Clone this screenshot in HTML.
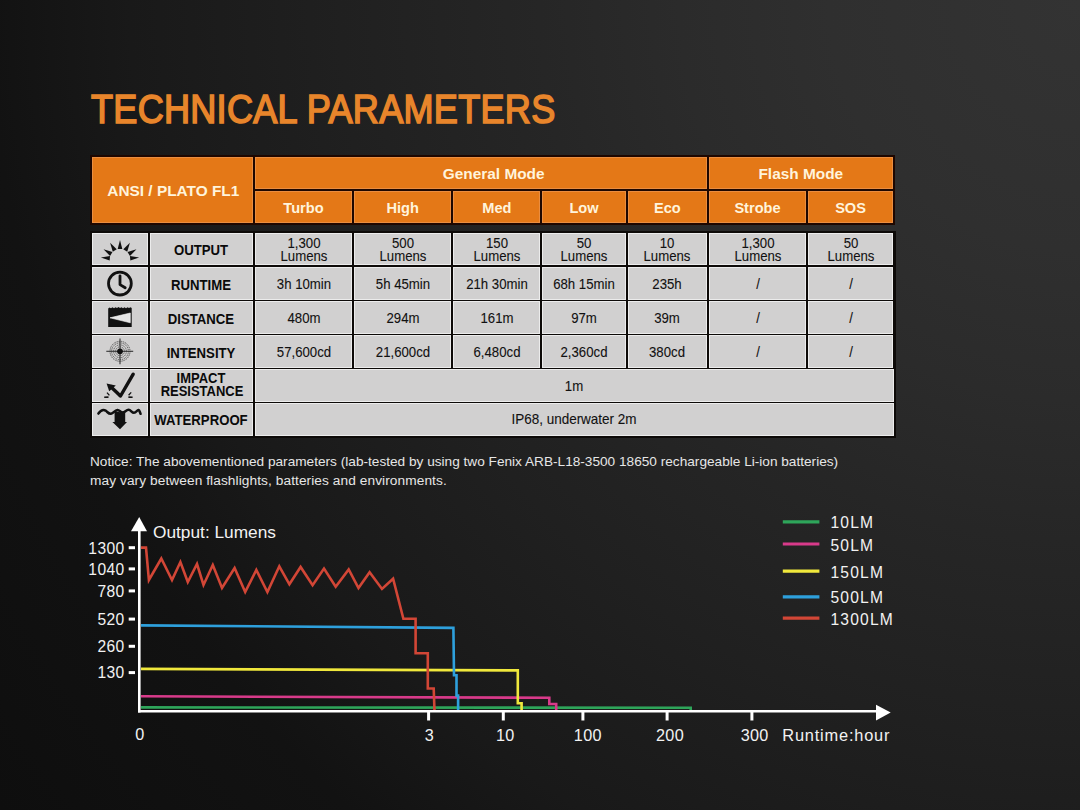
<!DOCTYPE html>
<html><head><meta charset="utf-8"><style>
html,body{margin:0;padding:0;}
body{width:1080px;height:810px;overflow:hidden;position:relative;font-family:"Liberation Sans", sans-serif;
background:radial-gradient(circle at 1080px 0px, #333333 0px, #2f2f2f 250px, #2b2b2b 400px, #262626 540px, #202020 740px, #191919 950px, #121212 1090px, #0e0e0e 1350px);}
.t{position:absolute;line-height:1;white-space:nowrap;}
.r{position:absolute;}
</style></head><body>
<div class="t" style="left:90.5px;top:89.14px;font-size:40px;font-weight:400;color:#e8852b;-webkit-text-stroke:1.6px #e8852b;transform:scaleX(0.902);transform-origin:0 0;white-space:nowrap;letter-spacing:0.3px">TECHNICAL PARAMETERS</div>
<div class="r" style="left:90px;top:155px;width:805.30px;height:70.00px;background:#1e0700;"></div>
<div class="r" style="left:92px;top:157px;width:161.00px;height:66.00px;background:#e47817;box-shadow:inset 0 0 0 1px #ea8d40"></div>
<div class="r" style="left:255px;top:157px;width:452.20px;height:31.70px;background:#e47817;box-shadow:inset 0 0 0 1px #ea8d40"></div>
<div class="r" style="left:709.2px;top:157px;width:184.10px;height:31.70px;background:#e47817;box-shadow:inset 0 0 0 1px #ea8d40"></div>
<div class="r" style="left:255px;top:190.7px;width:97.00px;height:32.30px;background:#e47817;box-shadow:inset 0 0 0 1px #ea8d40"></div>
<div class="r" style="left:354px;top:190.7px;width:97.20px;height:32.30px;background:#e47817;box-shadow:inset 0 0 0 1px #ea8d40"></div>
<div class="r" style="left:453.2px;top:190.7px;width:87.30px;height:32.30px;background:#e47817;box-shadow:inset 0 0 0 1px #ea8d40"></div>
<div class="r" style="left:542.3px;top:190.7px;width:83.40px;height:32.30px;background:#e47817;box-shadow:inset 0 0 0 1px #ea8d40"></div>
<div class="r" style="left:627.5px;top:190.7px;width:79.70px;height:32.30px;background:#e47817;box-shadow:inset 0 0 0 1px #ea8d40"></div>
<div class="r" style="left:709.2px;top:190.7px;width:96.60px;height:32.30px;background:#e47817;box-shadow:inset 0 0 0 1px #ea8d40"></div>
<div class="r" style="left:807.8px;top:190.7px;width:85.50px;height:32.30px;background:#e47817;box-shadow:inset 0 0 0 1px #ea8d40"></div>
<div class="t" style="left:-126.70px;width:600px;text-align:center;top:182.66px;font-size:15.4px;font-weight:700;color:#fff4dc;">ANSI / PLATO FL1</div>
<div class="t" style="left:193.70px;width:600px;text-align:center;top:165.86px;font-size:15.4px;font-weight:700;color:#fff4dc;">General Mode</div>
<div class="t" style="left:500.80px;width:600px;text-align:center;top:165.86px;font-size:15.4px;font-weight:700;color:#fff4dc;">Flash Mode</div>
<div class="t" style="left:3.50px;width:600px;text-align:center;top:200.94px;font-size:14.6px;font-weight:700;color:#fff4dc;">Turbo</div>
<div class="t" style="left:102.60px;width:600px;text-align:center;top:200.94px;font-size:14.6px;font-weight:700;color:#fff4dc;">High</div>
<div class="t" style="left:196.85px;width:600px;text-align:center;top:200.94px;font-size:14.6px;font-weight:700;color:#fff4dc;">Med</div>
<div class="t" style="left:284.00px;width:600px;text-align:center;top:200.94px;font-size:14.6px;font-weight:700;color:#fff4dc;">Low</div>
<div class="t" style="left:367.35px;width:600px;text-align:center;top:200.94px;font-size:14.6px;font-weight:700;color:#fff4dc;">Eco</div>
<div class="t" style="left:457.50px;width:600px;text-align:center;top:200.94px;font-size:14.6px;font-weight:700;color:#fff4dc;">Strobe</div>
<div class="t" style="left:550.55px;width:600px;text-align:center;top:200.94px;font-size:14.6px;font-weight:700;color:#fff4dc;">SOS</div>
<div class="r" style="left:90px;top:231px;width:805.50px;height:206.60px;background:#0d0a08;"></div>
<div class="r" style="left:92px;top:233px;width:55.50px;height:32.10px;background:#d1d0d0;box-shadow:inset 0 0 0 1px #ececec"></div>
<div class="r" style="left:149.5px;top:233px;width:103.50px;height:32.10px;background:#d1d0d0;box-shadow:inset 0 0 0 1px #ececec"></div>
<div class="r" style="left:255px;top:233px;width:97.00px;height:32.10px;background:#d1d0d0;box-shadow:inset 0 0 0 1px #ececec"></div>
<div class="r" style="left:354px;top:233px;width:97.20px;height:32.10px;background:#d1d0d0;box-shadow:inset 0 0 0 1px #ececec"></div>
<div class="r" style="left:453.2px;top:233px;width:87.30px;height:32.10px;background:#d1d0d0;box-shadow:inset 0 0 0 1px #ececec"></div>
<div class="r" style="left:542.3px;top:233px;width:83.40px;height:32.10px;background:#d1d0d0;box-shadow:inset 0 0 0 1px #ececec"></div>
<div class="r" style="left:627.5px;top:233px;width:79.70px;height:32.10px;background:#d1d0d0;box-shadow:inset 0 0 0 1px #ececec"></div>
<div class="r" style="left:709.2px;top:233px;width:96.60px;height:32.10px;background:#d1d0d0;box-shadow:inset 0 0 0 1px #ececec"></div>
<div class="r" style="left:807.8px;top:233px;width:85.70px;height:32.10px;background:#d1d0d0;box-shadow:inset 0 0 0 1px #ececec"></div>
<div class="r" style="left:92px;top:266.9px;width:55.50px;height:32.70px;background:#d1d0d0;box-shadow:inset 0 0 0 1px #ececec"></div>
<div class="r" style="left:149.5px;top:266.9px;width:103.50px;height:32.70px;background:#d1d0d0;box-shadow:inset 0 0 0 1px #ececec"></div>
<div class="r" style="left:255px;top:266.9px;width:97.00px;height:32.70px;background:#d1d0d0;box-shadow:inset 0 0 0 1px #ececec"></div>
<div class="r" style="left:354px;top:266.9px;width:97.20px;height:32.70px;background:#d1d0d0;box-shadow:inset 0 0 0 1px #ececec"></div>
<div class="r" style="left:453.2px;top:266.9px;width:87.30px;height:32.70px;background:#d1d0d0;box-shadow:inset 0 0 0 1px #ececec"></div>
<div class="r" style="left:542.3px;top:266.9px;width:83.40px;height:32.70px;background:#d1d0d0;box-shadow:inset 0 0 0 1px #ececec"></div>
<div class="r" style="left:627.5px;top:266.9px;width:79.70px;height:32.70px;background:#d1d0d0;box-shadow:inset 0 0 0 1px #ececec"></div>
<div class="r" style="left:709.2px;top:266.9px;width:96.60px;height:32.70px;background:#d1d0d0;box-shadow:inset 0 0 0 1px #ececec"></div>
<div class="r" style="left:807.8px;top:266.9px;width:85.70px;height:32.70px;background:#d1d0d0;box-shadow:inset 0 0 0 1px #ececec"></div>
<div class="r" style="left:92px;top:301.4px;width:55.50px;height:32.20px;background:#d1d0d0;box-shadow:inset 0 0 0 1px #ececec"></div>
<div class="r" style="left:149.5px;top:301.4px;width:103.50px;height:32.20px;background:#d1d0d0;box-shadow:inset 0 0 0 1px #ececec"></div>
<div class="r" style="left:255px;top:301.4px;width:97.00px;height:32.20px;background:#d1d0d0;box-shadow:inset 0 0 0 1px #ececec"></div>
<div class="r" style="left:354px;top:301.4px;width:97.20px;height:32.20px;background:#d1d0d0;box-shadow:inset 0 0 0 1px #ececec"></div>
<div class="r" style="left:453.2px;top:301.4px;width:87.30px;height:32.20px;background:#d1d0d0;box-shadow:inset 0 0 0 1px #ececec"></div>
<div class="r" style="left:542.3px;top:301.4px;width:83.40px;height:32.20px;background:#d1d0d0;box-shadow:inset 0 0 0 1px #ececec"></div>
<div class="r" style="left:627.5px;top:301.4px;width:79.70px;height:32.20px;background:#d1d0d0;box-shadow:inset 0 0 0 1px #ececec"></div>
<div class="r" style="left:709.2px;top:301.4px;width:96.60px;height:32.20px;background:#d1d0d0;box-shadow:inset 0 0 0 1px #ececec"></div>
<div class="r" style="left:807.8px;top:301.4px;width:85.70px;height:32.20px;background:#d1d0d0;box-shadow:inset 0 0 0 1px #ececec"></div>
<div class="r" style="left:92px;top:335.4px;width:55.50px;height:32.20px;background:#d1d0d0;box-shadow:inset 0 0 0 1px #ececec"></div>
<div class="r" style="left:149.5px;top:335.4px;width:103.50px;height:32.20px;background:#d1d0d0;box-shadow:inset 0 0 0 1px #ececec"></div>
<div class="r" style="left:255px;top:335.4px;width:97.00px;height:32.20px;background:#d1d0d0;box-shadow:inset 0 0 0 1px #ececec"></div>
<div class="r" style="left:354px;top:335.4px;width:97.20px;height:32.20px;background:#d1d0d0;box-shadow:inset 0 0 0 1px #ececec"></div>
<div class="r" style="left:453.2px;top:335.4px;width:87.30px;height:32.20px;background:#d1d0d0;box-shadow:inset 0 0 0 1px #ececec"></div>
<div class="r" style="left:542.3px;top:335.4px;width:83.40px;height:32.20px;background:#d1d0d0;box-shadow:inset 0 0 0 1px #ececec"></div>
<div class="r" style="left:627.5px;top:335.4px;width:79.70px;height:32.20px;background:#d1d0d0;box-shadow:inset 0 0 0 1px #ececec"></div>
<div class="r" style="left:709.2px;top:335.4px;width:96.60px;height:32.20px;background:#d1d0d0;box-shadow:inset 0 0 0 1px #ececec"></div>
<div class="r" style="left:807.8px;top:335.4px;width:85.70px;height:32.20px;background:#d1d0d0;box-shadow:inset 0 0 0 1px #ececec"></div>
<div class="r" style="left:92px;top:369.4px;width:55.50px;height:32.20px;background:#d1d0d0;box-shadow:inset 0 0 0 1px #ececec"></div>
<div class="r" style="left:149.5px;top:369.4px;width:103.50px;height:32.20px;background:#d1d0d0;box-shadow:inset 0 0 0 1px #ececec"></div>
<div class="r" style="left:255px;top:369.4px;width:638.50px;height:32.20px;background:#d1d0d0;box-shadow:inset 0 0 0 1px #ececec"></div>
<div class="r" style="left:92px;top:403.4px;width:55.50px;height:32.20px;background:#d1d0d0;box-shadow:inset 0 0 0 1px #ececec"></div>
<div class="r" style="left:149.5px;top:403.4px;width:103.50px;height:32.20px;background:#d1d0d0;box-shadow:inset 0 0 0 1px #ececec"></div>
<div class="r" style="left:255px;top:403.4px;width:638.50px;height:32.20px;background:#d1d0d0;box-shadow:inset 0 0 0 1px #ececec"></div>
<div class="t" style="left:-98.75px;width:600px;text-align:center;top:243.45px;font-size:14px;font-weight:700;color:#0a0a0a;;transform:scaleX(0.94);transform-origin:50% 0">OUTPUT</div>
<div class="t" style="left:-98.75px;width:600px;text-align:center;top:277.85px;font-size:14px;font-weight:700;color:#0a0a0a;;transform:scaleX(0.94);transform-origin:50% 0">RUNTIME</div>
<div class="t" style="left:-98.75px;width:600px;text-align:center;top:311.50px;font-size:14px;font-weight:700;color:#0a0a0a;;transform:scaleX(0.94);transform-origin:50% 0">DISTANCE</div>
<div class="t" style="left:-98.75px;width:600px;text-align:center;top:345.65px;font-size:14px;font-weight:700;color:#0a0a0a;;transform:scaleX(0.94);transform-origin:50% 0">INTENSITY</div>
<div class="t" style="left:-98.75px;width:600px;text-align:center;top:413.35px;font-size:14px;font-weight:700;color:#0a0a0a;;transform:scaleX(0.94);transform-origin:50% 0">WATERPROOF</div>
<div class="t" style="left:-98.70px;width:600px;text-align:center;top:372.32px;font-size:13.8px;font-weight:700;color:#0a0a0a;;transform:scaleX(0.94);transform-origin:50% 0">IMPACT</div>
<div class="t" style="left:-98.50px;width:600px;text-align:center;top:384.52px;font-size:13.8px;font-weight:700;color:#0a0a0a;;transform:scaleX(0.94);transform-origin:50% 0">RESISTANCE</div>
<div class="t" style="left:3.50px;width:600px;text-align:center;top:236.08px;font-size:14.2px;font-weight:400;color:#111;-webkit-text-stroke:0.1px #111;transform:scaleX(0.93);transform-origin:50% 0">1,300</div>
<div class="t" style="left:3.50px;width:600px;text-align:center;top:249.08px;font-size:14.2px;font-weight:400;color:#111;-webkit-text-stroke:0.1px #111;transform:scaleX(0.93);transform-origin:50% 0">Lumens</div>
<div class="t" style="left:102.60px;width:600px;text-align:center;top:236.08px;font-size:14.2px;font-weight:400;color:#111;-webkit-text-stroke:0.1px #111;transform:scaleX(0.93);transform-origin:50% 0">500</div>
<div class="t" style="left:102.60px;width:600px;text-align:center;top:249.08px;font-size:14.2px;font-weight:400;color:#111;-webkit-text-stroke:0.1px #111;transform:scaleX(0.93);transform-origin:50% 0">Lumens</div>
<div class="t" style="left:196.85px;width:600px;text-align:center;top:236.08px;font-size:14.2px;font-weight:400;color:#111;-webkit-text-stroke:0.1px #111;transform:scaleX(0.93);transform-origin:50% 0">150</div>
<div class="t" style="left:196.85px;width:600px;text-align:center;top:249.08px;font-size:14.2px;font-weight:400;color:#111;-webkit-text-stroke:0.1px #111;transform:scaleX(0.93);transform-origin:50% 0">Lumens</div>
<div class="t" style="left:284.00px;width:600px;text-align:center;top:236.08px;font-size:14.2px;font-weight:400;color:#111;-webkit-text-stroke:0.1px #111;transform:scaleX(0.93);transform-origin:50% 0">50</div>
<div class="t" style="left:284.00px;width:600px;text-align:center;top:249.08px;font-size:14.2px;font-weight:400;color:#111;-webkit-text-stroke:0.1px #111;transform:scaleX(0.93);transform-origin:50% 0">Lumens</div>
<div class="t" style="left:367.35px;width:600px;text-align:center;top:236.08px;font-size:14.2px;font-weight:400;color:#111;-webkit-text-stroke:0.1px #111;transform:scaleX(0.93);transform-origin:50% 0">10</div>
<div class="t" style="left:367.35px;width:600px;text-align:center;top:249.08px;font-size:14.2px;font-weight:400;color:#111;-webkit-text-stroke:0.1px #111;transform:scaleX(0.93);transform-origin:50% 0">Lumens</div>
<div class="t" style="left:457.50px;width:600px;text-align:center;top:236.08px;font-size:14.2px;font-weight:400;color:#111;-webkit-text-stroke:0.1px #111;transform:scaleX(0.93);transform-origin:50% 0">1,300</div>
<div class="t" style="left:457.50px;width:600px;text-align:center;top:249.08px;font-size:14.2px;font-weight:400;color:#111;-webkit-text-stroke:0.1px #111;transform:scaleX(0.93);transform-origin:50% 0">Lumens</div>
<div class="t" style="left:550.65px;width:600px;text-align:center;top:236.08px;font-size:14.2px;font-weight:400;color:#111;-webkit-text-stroke:0.1px #111;transform:scaleX(0.93);transform-origin:50% 0">50</div>
<div class="t" style="left:550.65px;width:600px;text-align:center;top:249.08px;font-size:14.2px;font-weight:400;color:#111;-webkit-text-stroke:0.1px #111;transform:scaleX(0.93);transform-origin:50% 0">Lumens</div>
<div class="t" style="left:3.50px;width:600px;text-align:center;top:276.98px;font-size:14.2px;font-weight:400;color:#111;-webkit-text-stroke:0.1px #111;transform:scaleX(0.93);transform-origin:50% 0">3h 10min</div>
<div class="t" style="left:102.60px;width:600px;text-align:center;top:276.98px;font-size:14.2px;font-weight:400;color:#111;-webkit-text-stroke:0.1px #111;transform:scaleX(0.93);transform-origin:50% 0">5h 45min</div>
<div class="t" style="left:196.85px;width:600px;text-align:center;top:276.98px;font-size:14.2px;font-weight:400;color:#111;-webkit-text-stroke:0.1px #111;transform:scaleX(0.93);transform-origin:50% 0">21h 30min</div>
<div class="t" style="left:284.00px;width:600px;text-align:center;top:276.98px;font-size:14.2px;font-weight:400;color:#111;-webkit-text-stroke:0.1px #111;transform:scaleX(0.93);transform-origin:50% 0">68h 15min</div>
<div class="t" style="left:367.35px;width:600px;text-align:center;top:276.98px;font-size:14.2px;font-weight:400;color:#111;-webkit-text-stroke:0.1px #111;transform:scaleX(0.93);transform-origin:50% 0">235h</div>
<div class="t" style="left:457.50px;width:600px;text-align:center;top:276.98px;font-size:14.2px;font-weight:400;color:#111;-webkit-text-stroke:0.1px #111;transform:scaleX(0.93);transform-origin:50% 0">/</div>
<div class="t" style="left:550.65px;width:600px;text-align:center;top:276.98px;font-size:14.2px;font-weight:400;color:#111;-webkit-text-stroke:0.1px #111;transform:scaleX(0.93);transform-origin:50% 0">/</div>
<div class="t" style="left:3.50px;width:600px;text-align:center;top:310.63px;font-size:14.2px;font-weight:400;color:#111;-webkit-text-stroke:0.1px #111;transform:scaleX(0.93);transform-origin:50% 0">480m</div>
<div class="t" style="left:102.60px;width:600px;text-align:center;top:310.63px;font-size:14.2px;font-weight:400;color:#111;-webkit-text-stroke:0.1px #111;transform:scaleX(0.93);transform-origin:50% 0">294m</div>
<div class="t" style="left:196.85px;width:600px;text-align:center;top:310.63px;font-size:14.2px;font-weight:400;color:#111;-webkit-text-stroke:0.1px #111;transform:scaleX(0.93);transform-origin:50% 0">161m</div>
<div class="t" style="left:284.00px;width:600px;text-align:center;top:310.63px;font-size:14.2px;font-weight:400;color:#111;-webkit-text-stroke:0.1px #111;transform:scaleX(0.93);transform-origin:50% 0">97m</div>
<div class="t" style="left:367.35px;width:600px;text-align:center;top:310.63px;font-size:14.2px;font-weight:400;color:#111;-webkit-text-stroke:0.1px #111;transform:scaleX(0.93);transform-origin:50% 0">39m</div>
<div class="t" style="left:457.50px;width:600px;text-align:center;top:310.63px;font-size:14.2px;font-weight:400;color:#111;-webkit-text-stroke:0.1px #111;transform:scaleX(0.93);transform-origin:50% 0">/</div>
<div class="t" style="left:550.65px;width:600px;text-align:center;top:310.63px;font-size:14.2px;font-weight:400;color:#111;-webkit-text-stroke:0.1px #111;transform:scaleX(0.93);transform-origin:50% 0">/</div>
<div class="t" style="left:3.50px;width:600px;text-align:center;top:344.78px;font-size:14.2px;font-weight:400;color:#111;-webkit-text-stroke:0.1px #111;transform:scaleX(0.93);transform-origin:50% 0">57,600cd</div>
<div class="t" style="left:102.60px;width:600px;text-align:center;top:344.78px;font-size:14.2px;font-weight:400;color:#111;-webkit-text-stroke:0.1px #111;transform:scaleX(0.93);transform-origin:50% 0">21,600cd</div>
<div class="t" style="left:196.85px;width:600px;text-align:center;top:344.78px;font-size:14.2px;font-weight:400;color:#111;-webkit-text-stroke:0.1px #111;transform:scaleX(0.93);transform-origin:50% 0">6,480cd</div>
<div class="t" style="left:284.00px;width:600px;text-align:center;top:344.78px;font-size:14.2px;font-weight:400;color:#111;-webkit-text-stroke:0.1px #111;transform:scaleX(0.93);transform-origin:50% 0">2,360cd</div>
<div class="t" style="left:367.35px;width:600px;text-align:center;top:344.78px;font-size:14.2px;font-weight:400;color:#111;-webkit-text-stroke:0.1px #111;transform:scaleX(0.93);transform-origin:50% 0">380cd</div>
<div class="t" style="left:457.50px;width:600px;text-align:center;top:344.78px;font-size:14.2px;font-weight:400;color:#111;-webkit-text-stroke:0.1px #111;transform:scaleX(0.93);transform-origin:50% 0">/</div>
<div class="t" style="left:550.65px;width:600px;text-align:center;top:344.78px;font-size:14.2px;font-weight:400;color:#111;-webkit-text-stroke:0.1px #111;transform:scaleX(0.93);transform-origin:50% 0">/</div>
<div class="t" style="left:274.00px;width:600px;text-align:center;top:378.88px;font-size:14.2px;font-weight:400;color:#111;-webkit-text-stroke:0.1px #111;transform:scaleX(0.93);transform-origin:50% 0">1m</div>
<div class="t" style="left:274.30px;width:600px;text-align:center;top:411.78px;font-size:14.2px;font-weight:400;color:#111;-webkit-text-stroke:0.1px #111;transform:scaleX(0.95);transform-origin:50% 0">IP68, underwater 2m</div>
<div class="t" style="left:90.00px;top:455.05px;font-size:13.65px;font-weight:400;color:#e6e6e6;white-space:nowrap">Notice: The abovementioned parameters (lab-tested by using two Fenix ARB-L18-3500 18650 rechargeable Li-ion batteries)</div>
<div class="t" style="left:90.00px;top:473.80px;font-size:13.7px;font-weight:400;color:#e6e6e6;white-space:nowrap;letter-spacing:0.08px">may vary between flashlights, batteries and environments.</div>
<div class="t" style="left:-475.40px;width:600px;text-align:right;top:540.59px;font-size:15.6px;font-weight:400;color:#f2f2f2;letter-spacing:0.4px">1300</div>
<div class="t" style="left:-475.40px;width:600px;text-align:right;top:561.79px;font-size:15.6px;font-weight:400;color:#f2f2f2;letter-spacing:0.4px">1040</div>
<div class="t" style="left:-475.40px;width:600px;text-align:right;top:583.79px;font-size:15.6px;font-weight:400;color:#f2f2f2;letter-spacing:0.4px">780</div>
<div class="t" style="left:-475.40px;width:600px;text-align:right;top:611.99px;font-size:15.6px;font-weight:400;color:#f2f2f2;letter-spacing:0.4px">520</div>
<div class="t" style="left:-475.40px;width:600px;text-align:right;top:639.19px;font-size:15.6px;font-weight:400;color:#f2f2f2;letter-spacing:0.4px">260</div>
<div class="t" style="left:-475.40px;width:600px;text-align:right;top:665.49px;font-size:15.6px;font-weight:400;color:#f2f2f2;letter-spacing:0.4px">130</div>
<div class="t" style="left:153.00px;top:524.36px;font-size:17.3px;font-weight:400;color:#f2f2f2;white-space:nowrap">Output: Lumens</div>
<div class="t" style="left:-160.00px;width:600px;text-align:center;top:725.89px;font-size:16.2px;font-weight:400;color:#f2f2f2;letter-spacing:0.3px">0</div>
<div class="t" style="left:129.30px;width:600px;text-align:center;top:727.29px;font-size:16.2px;font-weight:400;color:#f2f2f2;letter-spacing:0.3px">3</div>
<div class="t" style="left:205.30px;width:600px;text-align:center;top:727.39px;font-size:16.2px;font-weight:400;color:#f2f2f2;letter-spacing:0.3px">10</div>
<div class="t" style="left:287.80px;width:600px;text-align:center;top:727.29px;font-size:16.2px;font-weight:400;color:#f2f2f2;letter-spacing:0.3px">100</div>
<div class="t" style="left:370.00px;width:600px;text-align:center;top:727.29px;font-size:16.2px;font-weight:400;color:#f2f2f2;letter-spacing:0.3px">200</div>
<div class="t" style="left:454.60px;width:600px;text-align:center;top:727.19px;font-size:16.2px;font-weight:400;color:#f2f2f2;letter-spacing:0.3px">300</div>
<div class="t" style="left:782.30px;top:727.02px;font-size:16.4px;font-weight:400;color:#f2f2f2;white-space:nowrap;letter-spacing:0.8px">Runtime:hour</div>
<div class="t" style="left:830.50px;top:515.09px;font-size:15.6px;font-weight:400;color:#f2f2f2;white-space:nowrap;letter-spacing:1.2px">10LM</div>
<div class="t" style="left:830.50px;top:537.59px;font-size:15.6px;font-weight:400;color:#f2f2f2;white-space:nowrap;letter-spacing:1.2px">50LM</div>
<div class="t" style="left:830.50px;top:564.59px;font-size:15.6px;font-weight:400;color:#f2f2f2;white-space:nowrap;letter-spacing:1.2px">150LM</div>
<div class="t" style="left:830.50px;top:590.09px;font-size:15.6px;font-weight:400;color:#f2f2f2;white-space:nowrap;letter-spacing:1.2px">500LM</div>
<div class="t" style="left:830.50px;top:611.59px;font-size:15.6px;font-weight:400;color:#f2f2f2;white-space:nowrap;letter-spacing:1.2px">1300LM</div>
<svg class="r" style="left:0;top:0" width="1080" height="810" viewBox="0 0 1080 810">
<polyline points="141,707.4 690.7,707.8 690.7,711" fill="none" stroke="#2ea55a" stroke-width="2.6" stroke-linejoin="miter" stroke-miterlimit="10"/>
<polyline points="141,696.3 549.3,697.8 549.3,704 556.2,704 556.2,711" fill="none" stroke="#d83a8a" stroke-width="2.6" stroke-linejoin="miter" stroke-miterlimit="10"/>
<polyline points="141,668.9 517.8,670.4 517.8,703.3 521.6,703.3 521.6,711" fill="none" stroke="#f0e83c" stroke-width="2.6" stroke-linejoin="miter" stroke-miterlimit="10"/>
<polyline points="141,625.4 453.4,627.9 454,675.2 456.5,675.2 456.5,695.6 458.1,695.6 458.1,711" fill="none" stroke="#2ea0dc" stroke-width="2.6" stroke-linejoin="miter" stroke-miterlimit="10"/>
<polyline points="141,547.6 146,547.6 148.9,580 161.3,558.5 172,580 180.4,562 187.8,582 197,564 203.5,585 212.8,565 222,588 234.6,568 245.2,592 256.3,570 267.4,592 279.3,566.3 289.4,584.3 300.6,567 312.6,585.2 324,568.5 335.7,586.7 348.7,569.4 358.5,588 369.6,572.2 382,588.9 393.1,578.7 403.4,618.8 415.6,618.8 415.6,653.2 427.8,653.2 427.8,688.5 433.7,688.5 434.5,711" fill="none" stroke="#d24636" stroke-width="2.6" stroke-linejoin="miter" stroke-miterlimit="10"/>
<line x1="139.3" y1="528" x2="139.3" y2="712.5" stroke="#fff" stroke-width="2.6"/>
<line x1="138" y1="711.2" x2="878" y2="711.2" stroke="#fff" stroke-width="2.6"/>
<polygon points="131,531.3 147,531.3 139.2,517" fill="#fff"/>
<polygon points="876,704.8 876,720.6 890.7,712.6" fill="#fff"/>
<line x1="128.7" y1="547.7" x2="135" y2="547.7" stroke="#fff" stroke-width="3"/>
<line x1="128.7" y1="568.9" x2="135" y2="568.9" stroke="#fff" stroke-width="3"/>
<line x1="128.7" y1="590.9" x2="135" y2="590.9" stroke="#fff" stroke-width="3"/>
<line x1="128.7" y1="619.1" x2="135" y2="619.1" stroke="#fff" stroke-width="3"/>
<line x1="128.7" y1="646.3" x2="135" y2="646.3" stroke="#fff" stroke-width="3"/>
<line x1="128.7" y1="672.6" x2="135" y2="672.6" stroke="#fff" stroke-width="3"/>
<line x1="428.6" y1="711" x2="428.6" y2="720.5" stroke="#fff" stroke-width="3"/>
<line x1="503.3" y1="711" x2="503.3" y2="720.5" stroke="#fff" stroke-width="3"/>
<line x1="582.9" y1="711" x2="582.9" y2="720.5" stroke="#fff" stroke-width="3"/>
<line x1="667.1" y1="711" x2="667.1" y2="720.5" stroke="#fff" stroke-width="3"/>
<line x1="751.9" y1="711" x2="751.9" y2="720.5" stroke="#fff" stroke-width="3"/>
<line x1="782.8" y1="521.9" x2="819.4" y2="521.9" stroke="#2ea55a" stroke-width="3.2"/>
<line x1="782.8" y1="544" x2="819.4" y2="544" stroke="#d83a8a" stroke-width="3.2"/>
<line x1="782.8" y1="571.1" x2="819.4" y2="571.1" stroke="#f0e83c" stroke-width="3.2"/>
<line x1="782.8" y1="596.8" x2="819.4" y2="596.8" stroke="#2ea0dc" stroke-width="3.2"/>
<line x1="782.8" y1="618.2" x2="819.4" y2="618.2" stroke="#d24636" stroke-width="3.2"/>
</svg>
<svg class="r" style="left:0;top:0" width="1080" height="810" viewBox="0 0 1080 810">
<polygon points="122.30,249.00 120.00,240.00 117.70,249.00" fill="#111"/>
<polygon points="116.72,249.27 110.11,242.74 112.78,251.64" fill="#111"/>
<polygon points="112.44,251.98 103.54,249.31 110.07,255.92" fill="#111"/>
<polygon points="110.04,256.02 100.87,257.53 109.64,260.60" fill="#111"/>
<polygon points="127.22,251.64 129.89,242.74 123.28,249.27" fill="#111"/>
<polygon points="129.93,255.92 136.46,249.31 127.56,251.98" fill="#111"/>
<polygon points="130.36,260.60 139.13,257.53 129.96,256.02" fill="#111"/>
<circle cx="119.9" cy="283.6" r="11.4" fill="none" stroke="#111" stroke-width="2.8"/>
<polyline points="120,275.8 120,284.6 125.2,287.8" fill="none" stroke="#111" stroke-width="2.8" stroke-linecap="round" stroke-linejoin="round"/>
<path d="M108.2,308.5 L109.5,307.4 L111,308.3 L112.5,307.2 L114,308.2 L115.5,307.3 L117,308.1 L118.5,307.1 L120,308 L121.5,307.2 L123,308.2 L124.5,307.3 L126,308.2 L127.5,307.2 L129,308 L130.5,307.2 L131.7,308 L131.7,327 L108.2,327 Z" fill="#111"/>
<polygon points="110,317.8 130.3,313 130.3,322.8" fill="#e4e4e4" stroke="#fafafa" stroke-width="0.6"/>
<line x1="109" y1="325.8" x2="131" y2="325.8" stroke="#111" stroke-width="0.5"/>
<g fill="none" stroke="#444" stroke-width="0.9">
<circle cx="120" cy="351.3" r="4.4" stroke-dasharray="1.2 0.8"/>
<circle cx="120" cy="351.3" r="6.4" stroke-dasharray="1.2 0.8"/>
<circle cx="120" cy="351.3" r="8.4" stroke-dasharray="1.2 0.8"/>
<circle cx="120" cy="351.3" r="10" stroke-dasharray="1.2 0.8"/>
</g>
<line x1="106.3" y1="351.3" x2="133.2" y2="351.3" stroke="#333" stroke-width="1.1"/>
<line x1="120" y1="338.4" x2="120" y2="364.2" stroke="#333" stroke-width="1.1"/>
<circle cx="120" cy="351.3" r="2.9" fill="#111"/>
<line x1="120.5" y1="396" x2="133.2" y2="374.2" stroke="#111" stroke-width="3.4" stroke-linecap="round"/>
<line x1="120.5" y1="396" x2="110" y2="386" stroke="#111" stroke-width="3.4" stroke-linecap="butt"/>
<polygon points="106.6,383.4 115.8,385.6 109.2,391.2" fill="#111"/>
<line x1="104.2" y1="397.3" x2="108.5" y2="397.1" stroke="#111" stroke-width="1.6"/>
<line x1="107" y1="392.6" x2="109.4" y2="395.4" stroke="#111" stroke-width="1.3"/>
<line x1="128.4" y1="397.1" x2="132.6" y2="397.3" stroke="#111" stroke-width="1.6"/>
<line x1="131.2" y1="392.4" x2="128.6" y2="395.2" stroke="#111" stroke-width="1.3"/>
<path d="M98.4,413.6 C101,410 103.6,409.4 105.6,410.6 C107.6,412 108.4,414 111,413.8 C113.6,413.6 114.6,410.2 117.4,410 C119.6,409.8 120.4,412.6 122.6,412.6 C125,412.6 126,409.8 128.6,409.8 C131,409.8 131.6,412.8 134,412.8 C136.4,412.8 136.8,409.8 138.6,410 C139.6,410.2 139.6,412 140.6,413.8" fill="none" stroke="#111" stroke-width="2.5" stroke-linecap="round"/>
<polygon points="114.6,411 120,412.2 125.2,410.8 125.2,422 127,422 120,429.2 112.4,422 114.6,422" fill="#111"/>
</svg>
</body></html>
